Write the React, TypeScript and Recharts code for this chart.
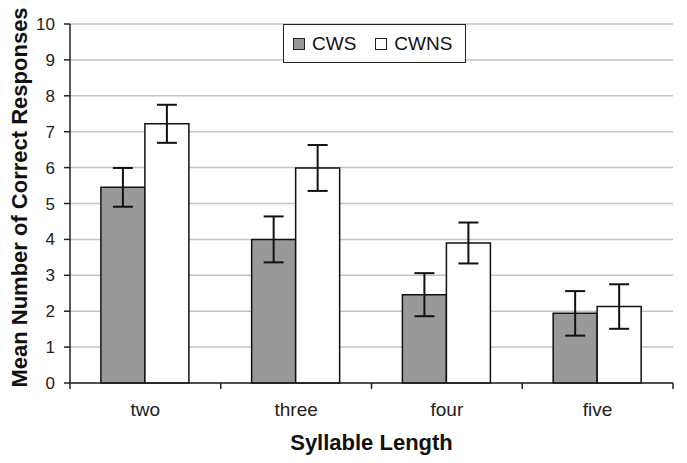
import React from 'react';
import { BarChart, Bar, XAxis, YAxis, CartesianGrid, ErrorBar } from 'recharts';

const categories = ['two', 'three', 'four', 'five'];
const cwsValues = [5.45, 4.0, 2.46, 1.94];
const cwnsValues = [7.22, 5.99, 3.9, 2.13];
const cwsErrors = [0.54, 0.64, 0.6, 0.62];
const cwnsErrors = [0.53, 0.64, 0.57, 0.62];
const seriesNames = ['CWS', 'CWNS'];
const yTicks = [0, 1, 2, 3, 4, 5, 6, 7, 8, 9, 10];

const data = categories.map((c, i) => ({
  cat: c,
  cws: cwsValues[i],
  cwns: cwnsValues[i],
  cwsErr: cwsErrors[i],
  cwnsErr: cwnsErrors[i],
}));

const FONT = '"Liberation Sans", Arial, sans-serif';

const XTick = (props: any) => {
  const { x, y, payload, index, visibleTicksCount, width } = props;
  const half =
    payload && typeof payload.offset === 'number' && payload.offset > 0
      ? payload.offset
      : width / (visibleTicksCount || categories.length) / 2;
  const isLast = index === (visibleTicksCount || categories.length) - 1;
  return (
    <g>
      <line x1={x - half} x2={x - half} y1={y} y2={y + 6} stroke="#222" strokeWidth={1.5} />
      {isLast && <line x1={x + half} x2={x + half} y1={y} y2={y + 6} stroke="#222" strokeWidth={1.5} />}
      <text x={x} y={y + 33} textAnchor="middle" fontSize={19} fill="#222" fontFamily={FONT}>
        {payload.value}
      </text>
    </g>
  );
};

const XLabel = (props: any) => {
  const vb = props.viewBox || {};
  return (
    <text x={vb.x + vb.width / 2} y={vb.y + 67} textAnchor="middle" fontSize={22} fontWeight="bold" fill="#111" fontFamily={FONT}>
      Syllable Length
    </text>
  );
};

const YLabel = (props: any) => {
  const vb = props.viewBox || {};
  const cx = vb.x + 19;
  const cy = vb.y + vb.height / 2 - 6;
  return (
    <text
      x={cx}
      y={cy}
      transform={`rotate(-90, ${cx}, ${cy})`}
      textAnchor="middle"
      dominantBaseline="central"
      fontSize={22}
      fontWeight="bold"
      fill="#111"
      fontFamily={FONT}
    >
      Mean Number of Correct Responses
    </text>
  );
};

const Swatch = ({ fill }: { fill: string }) => (
  <span style={{ display: 'inline-block', width: 10, height: 10, background: fill, border: '1.5px solid #222', marginRight: 7 }} />
);

export default function App() {
  return (
    <div style={{ position: 'absolute', left: 0, top: 0, width: 687, height: 463, background: '#fff' }}>
      <BarChart
        width={687}
        height={463}
        data={data}
        margin={{ top: 24, right: 14, bottom: 0, left: 0 }}
        barGap={0}
        barCategoryGap="20.5%"
      >
        <CartesianGrid vertical={false} stroke="#c4c4c4" strokeWidth={1.5} yAxisId="left" />
        <XAxis
          dataKey="cat"
          type="category"
          interval={0}
          height={80}
          tickLine={false}
          tickSize={0}
          tickMargin={0}
          axisLine={{ stroke: '#222', strokeWidth: 1.5 }}
          tick={<XTick />}
          label={<XLabel />}
        />
        <YAxis
          yAxisId="left"
          width={70}
          domain={[0, 10]}
          ticks={yTicks}
          interval={0}
          tickSize={6}
          tickMargin={9}
          tickLine={{ stroke: '#222', strokeWidth: 1.5 }}
          axisLine={{ stroke: '#222', strokeWidth: 1.5 }}
          tick={{ fontSize: 17, fill: '#222', fontFamily: FONT }}
          label={<YLabel />}
        />
        <YAxis
          yAxisId="right"
          orientation="right"
          width={0}
          domain={[0, 10]}
          tick={false}
          tickLine={false}
          axisLine={{ stroke: '#999', strokeWidth: 1.5 }}
        />
        <Bar yAxisId="left" dataKey="cws" name={seriesNames[0]} fill="#999999" stroke="#111" strokeWidth={1.5} isAnimationActive={false}>
          <ErrorBar dataKey="cwsErr" width={10} stroke="#111" strokeWidth={2} />
        </Bar>
        <Bar yAxisId="left" dataKey="cwns" name={seriesNames[1]} fill="#ffffff" stroke="#111" strokeWidth={1.5} isAnimationActive={false}>
          <ErrorBar dataKey="cwnsErr" width={10} stroke="#111" strokeWidth={2} />
        </Bar>
      </BarChart>
      <div
        style={{
          position: 'absolute',
          left: 283,
          top: 24,
          width: 183,
          height: 39,
          boxSizing: 'border-box',
          border: '1.5px solid #222',
          background: '#fff',
          display: 'flex',
          alignItems: 'center',
          paddingLeft: 9,
          fontFamily: FONT,
          fontSize: 19,
          color: '#111',
        }}
      >
        <Swatch fill="#999999" />
        <span style={{ marginRight: 19 }}>{seriesNames[0]}</span>
        <Swatch fill="#ffffff" />
        <span>{seriesNames[1]}</span>
      </div>
    </div>
  );
}
